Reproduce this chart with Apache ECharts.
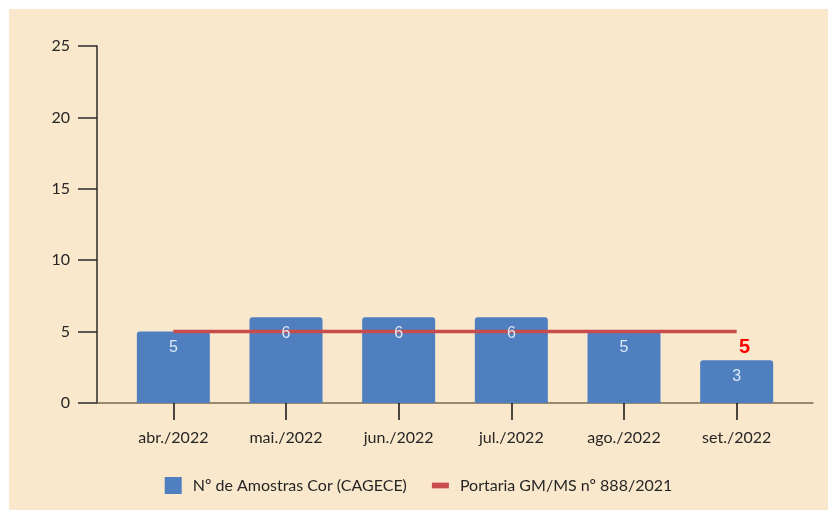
<!DOCTYPE html>
<html>
<head>
<meta charset="utf-8">
<script src="https://cdn.jsdelivr.net/npm/echarts@6/dist/echarts.min.js"></script>
<style>
  html, body { margin: 0; padding: 0; background: #fff; }
  .chart-wrap { position: absolute; left: 9px; top: 9px; width: 819px; height: 501px; background: #fae8cc; }
</style>
</head>
<body>
<div id="chart" class="chart-wrap"></div>
<script>
  // Nº de amostras cor x limite da portaria
  const categories = ['abr./2022', 'mai./2022', 'jun./2022', 'jul./2022', 'ago./2022', 'set./2022'];
  const amostras = [5, 6, 6, 6, 5, 3];
  const portaria = [5, 5, 5, 5, 5, 5];
  const yTicks = [0, 5, 10, 15, 20, 25];

  const nomeBarra = 'Nº de Amostras Cor (CAGECE)';
  const nomeLinha = 'Portaria GM/MS nº 888/2021';
  const fonte = 'Lato, "Open Sans", sans-serif';

  const myChart = echarts.init(document.getElementById('chart'));

  const lineData = portaria.map((v, i) => {
    if (i === portaria.length - 1) {
      return {
        value: v,
        label: {
          show: true,
          position: 'inside',
          offset: [8, 16],
          color: '#ff0000',
          fontSize: 20,
          fontWeight: 'bold',
          fontFamily: 'Arial, "Liberation Sans", sans-serif'
        }
      };
    }
    return v;
  });

  const options = {
    backgroundColor: 'transparent',
    animation: false,
    legend: {
      top: 463,
      left: 'center',
      itemWidth: 17,
      itemHeight: 17,
      itemGap: 25,
      textStyle: { color: '#262626', fontSize: 16, fontFamily: fonte, padding: [0, 0, 0, 6] },
      data: [
        { name: nomeBarra, icon: 'rect' },
        { name: nomeLinha, icon: 'path://M0,0 L18,0 L18,6 L0,6 Z' }
      ]
    },
    grid: [
      { left: 108, right: 35, top: 37, bottom: 107 },
      { left: 88, right: 15, top: 37, bottom: 107 }
    ],
    xAxis: [{
      type: 'category',
      gridIndex: 0,
      data: categories,
      axisLine: { show: false },
      axisTick: { show: true, alignWithLabel: true, length: 17, lineStyle: { color: '#111', width: 1.5 } },
      axisLabel: { margin: 27, color: '#262626', fontSize: 16, fontFamily: fonte }
    }, {
      type: 'value',
      gridIndex: 1,
      min: 0,
      max: 1,
      axisLine: { show: true, lineStyle: { color: '#7a6a55', width: 1.5 } },
      axisTick: { show: false },
      axisLabel: { show: false },
      splitLine: { show: false }
    }],
    yAxis: [{
      type: 'value',
      gridIndex: 0,
      min: yTicks[0],
      max: yTicks[yTicks.length - 1],
      interval: 5,
      offset: 20,
      axisLine: { show: true, lineStyle: { color: '#2a2a2a', width: 1.5 } },
      axisTick: { show: true, length: 19, lineStyle: { color: '#2a2a2a', width: 1.5 } },
      axisLabel: { margin: 27, color: '#262626', fontSize: 16, fontFamily: fonte },
      splitLine: { show: false }
    }, {
      type: 'value',
      gridIndex: 1,
      show: false
    }],
    series: [{
      name: nomeBarra,
      type: 'bar',
      xAxisIndex: 0,
      yAxisIndex: 0,
      barWidth: 73,
      itemStyle: { color: '#4f7fbf', borderRadius: [3, 3, 0, 0] },
      data: amostras,
      z: 2
    }, {
      name: nomeLinha,
      type: 'line',
      xAxisIndex: 0,
      yAxisIndex: 0,
      symbol: 'circle',
      symbolSize: 0,
      lineStyle: { color: '#c94c4c', width: 3.5 },
      itemStyle: { color: '#c94c4c' },
      label: { show: false },
      data: lineData,
      z: 3
    }, {
      // rótulos das barras por cima da linha
      name: nomeBarra + ' rótulo',
      type: 'bar',
      xAxisIndex: 0,
      yAxisIndex: 0,
      barWidth: 73,
      barGap: '-100%',
      itemStyle: { color: 'rgba(0,0,0,0)' },
      label: {
        show: true,
        position: 'insideTop',
        distance: 8,
        color: '#dbe8f7',
        fontSize: 16,
        fontFamily: 'Arial, "Liberation Sans", sans-serif'
      },
      data: amostras,
      silent: true,
      z: 5
    }]
  };

  myChart.setOption(options);
</script>
</body>
</html>
